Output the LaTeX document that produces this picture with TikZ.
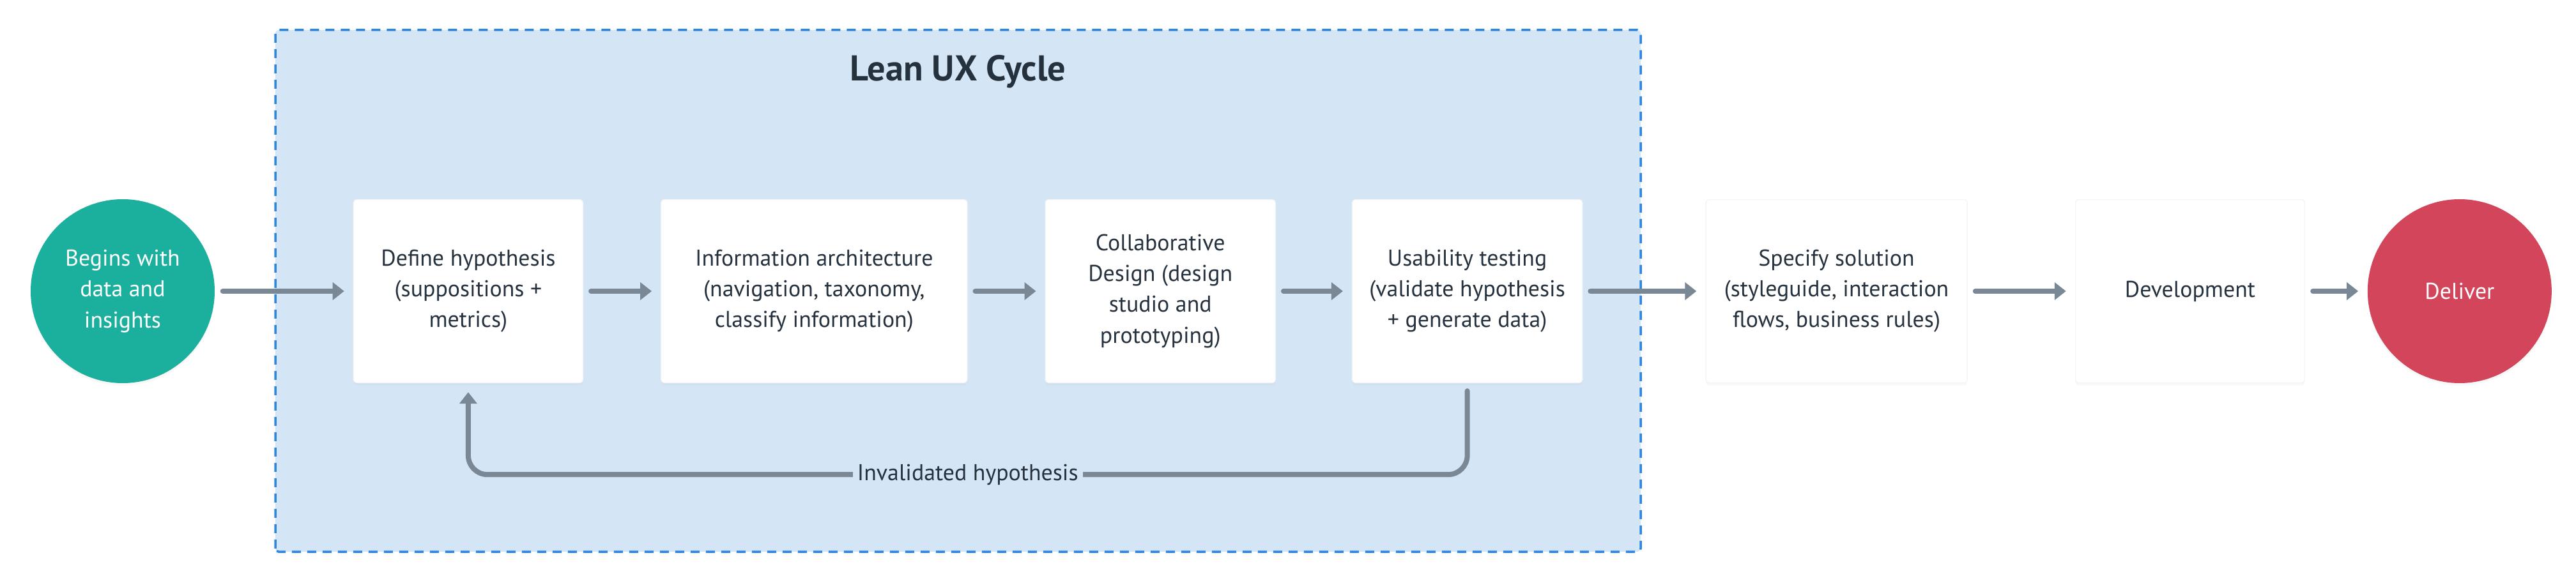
\documentclass[tikz,border=0pt]{standalone}
\usepackage{fontspec}
\setmainfont{PT Sans}
\usepackage{tikz}
\usetikzlibrary{
  arrows.meta, positioning, shapes, shadows, calc, backgrounds
}
\definecolor{LeanFill}{HTML}{D4E6F5}
\definecolor{LeanDash}{HTML}{2E86DE}
\definecolor{FlowGrey}{HTML}{7A8896}
\definecolor{InkDark}{HTML}{25313D}
\definecolor{StartGreen}{HTML}{1BAF9D}
\definecolor{EndRed}{HTML}{D3455B}

\begin{document}
\begin{tikzpicture}[
  font=\fontsize{10.2}{13.7}\selectfont,
  soft/.style={drop shadow={shadow xshift=0cm, shadow yshift=-0.04cm, opacity=0.06}},
  terminal/.style={circle, minimum size=2.88cm, inner sep=0pt, text=white, align=center, soft},
  stage/.style={rectangle, rounded corners=0.05cm, fill=white, draw=black!4, line width=0.4pt, text=InkDark,
    minimum height=2.87cm, inner sep=2pt, align=center, soft},
  arrow/.style={-{Triangle[length=0.18cm, width=0.27cm]}, line width=0.08cm, draw=FlowGrey, line cap=round,
    shorten <=0.12cm, shorten >=0.14cm}
]
\useasboundingbox (0,0) rectangle (40.32,9.12);

% Lean UX frame
\draw[fill=LeanFill, draw=LeanDash, line width=0.035cm, dash pattern=on 0.14cm off 0.1cm, rounded corners=0.05cm]
  (4.31,0.48) rectangle (25.68,8.65);
\node[text=InkDark, font=\fontsize{16}{19}\selectfont\bfseries] (title) at (14.995,8.0) {Lean UX Cycle};

% stages
\node[terminal, fill=StartGreen] (begin) at (1.92,4.56) {Begins with\\data and\\insights};
\node[stage, minimum width=3.59cm, right=2.16cm of begin] (hyp) {Define hypothesis\\(suppositions +\\metrics)};
\node[stage, minimum width=4.79cm, right=1.21cm of hyp] (arch) {Information architecture\\(navigation, taxonomy,\\classify information)};
\node[stage, minimum width=3.60cm, right=1.21cm of arch] (collab) {Collaborative\\Design (design\\studio and\\prototyping)};
\node[stage, minimum width=3.60cm, right=1.19cm of collab] (usab) {Usability testing\\(validate hypothesis\\+ generate data)};
\node[stage, minimum width=4.09cm, right=1.92cm of usab] (spec) {Specify solution\\(styleguide, interaction\\flows, business rules)};
\node[stage, minimum width=3.59cm, right=1.68cm of spec] (dev) {Development};
\node[terminal, fill=EndRed, right=0.97cm of dev] (deliver) {Deliver};

\draw[arrow] (begin) -- (hyp);
\draw[arrow] (hyp) -- (arch);
\draw[arrow] (arch) -- (collab);
\draw[arrow] (collab) -- (usab);
\draw[arrow] (usab) -- (spec);
\draw[arrow] (spec) -- (dev);
\draw[arrow] (dev) -- (deliver);

% back loop
\coordinate (loopR) at ($(usab.south)+(0,-1.43)$);
\coordinate (loopL) at ($(hyp.south)+(0,-1.43)$);
\draw[arrow, rounded corners=0.3cm] (usab.south) -- (loopR) -- (loopL) -- (hyp.south);
\node[fill=LeanFill, text=InkDark, inner xsep=2pt, inner ysep=1pt] (invalid) at ($(loopL)!0.5!(loopR)$) {Invalidated hypothesis};
\end{tikzpicture}
\end{document}
